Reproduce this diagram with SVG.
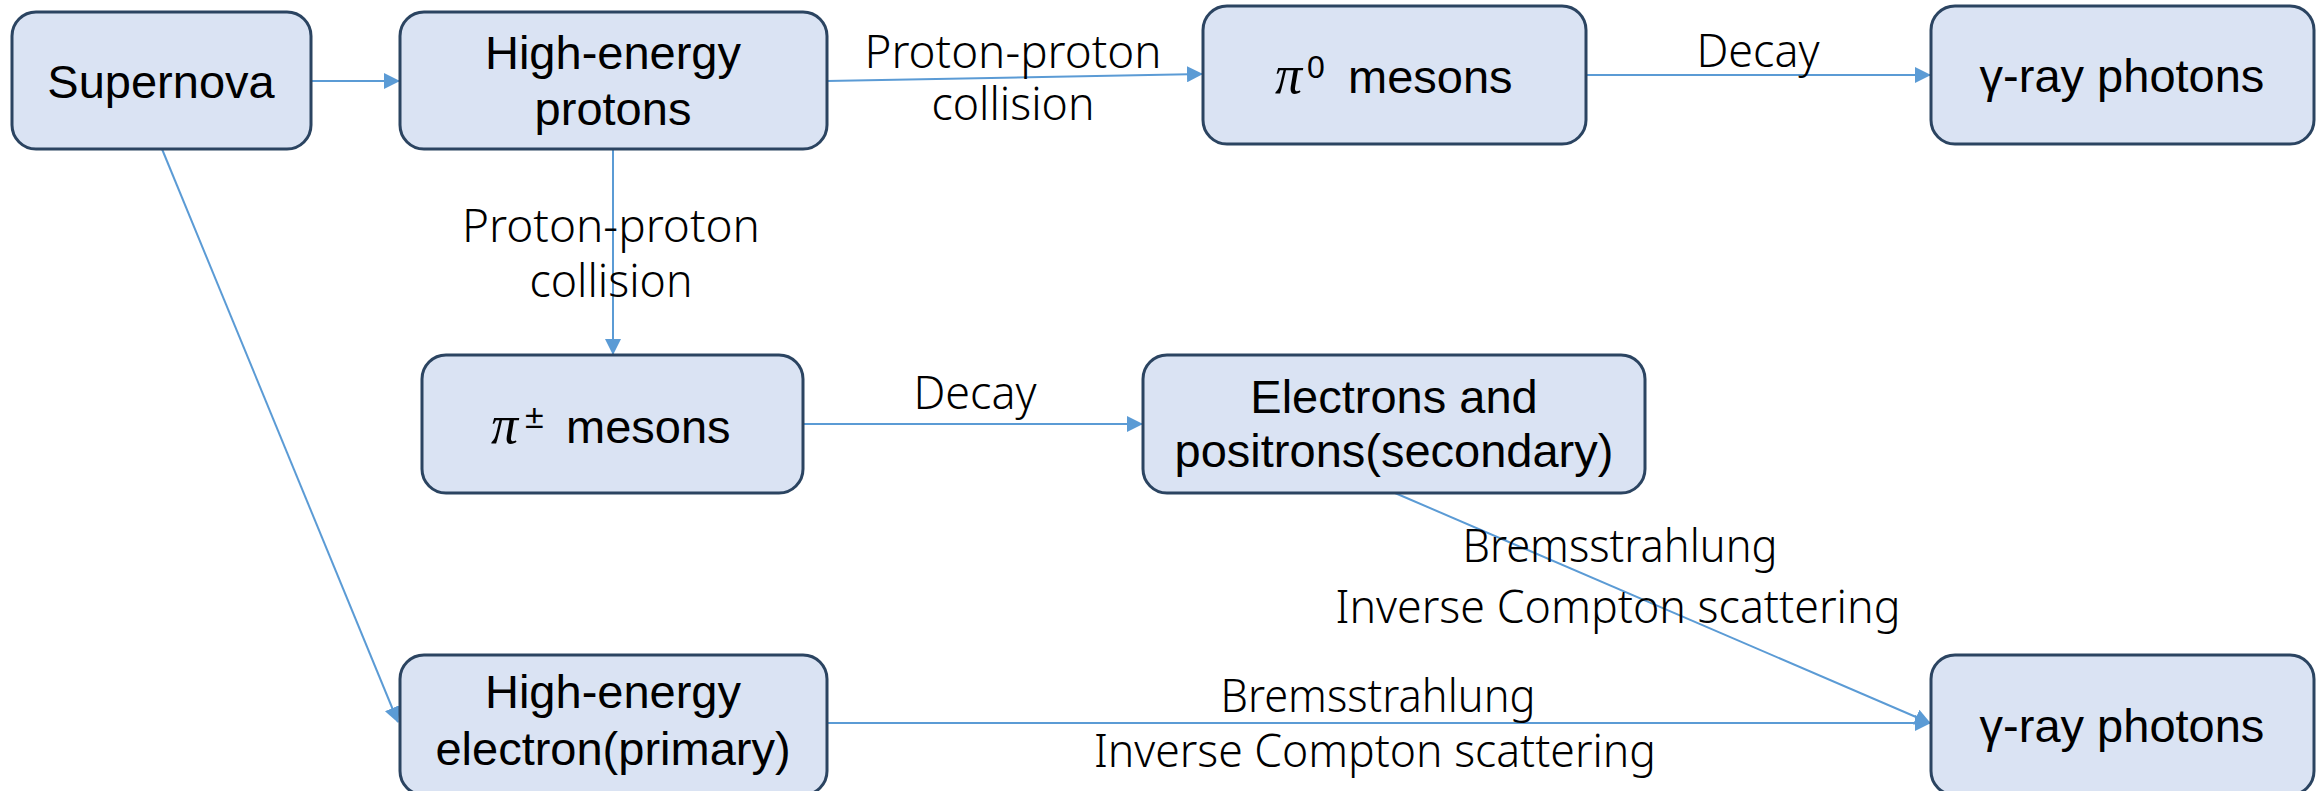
<svg xmlns="http://www.w3.org/2000/svg" width="2323" height="791" viewBox="0 0 2323 791">
<style>
.box{fill:#DAE3F3;stroke:#2B4461;stroke-width:3}
.nt{font-family:"Liberation Sans",Arial,sans-serif;font-size:47px;fill:#000;text-anchor:middle}
.nl{font-family:"Liberation Sans",Arial,sans-serif;font-size:47px;fill:#000}
.pi{font-family:"Liberation Serif","Times New Roman",serif;font-style:italic;font-size:54px}
.el{font-family:"Noto Sans","Open Sans",sans-serif;font-size:45px;font-weight:300;fill:#000;text-anchor:middle}
.cn{stroke:#5B9BD5;stroke-width:2;fill:none;marker-end:url(#ah)}
</style>
<defs>
<marker id="ah" markerUnits="userSpaceOnUse" markerWidth="16" markerHeight="16" viewBox="0 0 16 16" refX="15" refY="8" orient="auto">
<path d="M0,0 L16,8 L0,16 Z" fill="#5B9BD5"/>
</marker>
</defs>
<rect width="2323" height="791" fill="#FFFFFF"/>
<g id="connectors">
<line class="cn" x1="311" y1="81" x2="399" y2="81"/>
<line class="cn" x1="827" y1="81" x2="1202" y2="74"/>
<line class="cn" x1="1586" y1="75" x2="1930" y2="75"/>
<line class="cn" x1="613" y1="149" x2="613" y2="354"/>
<line class="cn" x1="803" y1="424" x2="1142" y2="424"/>
<line class="cn" x1="1395" y1="493" x2="1930" y2="723"/>
<line class="cn" x1="162" y1="149" x2="398" y2="722"/>
<line class="cn" x1="827" y1="723" x2="1930" y2="723"/>
<text class="el" x="1013" y="68" textLength="297" lengthAdjust="spacingAndGlyphs">Proton-proton</text>
<text class="el" x="1013" y="120" textLength="163" lengthAdjust="spacingAndGlyphs">collision</text>
<text class="el" x="1758" y="67" textLength="123" lengthAdjust="spacingAndGlyphs">Decay</text>
<text class="el" x="611" y="242" textLength="298" lengthAdjust="spacingAndGlyphs">Proton-proton</text>
<text class="el" x="611" y="297" textLength="163" lengthAdjust="spacingAndGlyphs">collision</text>
<text class="el" x="975" y="409" textLength="123" lengthAdjust="spacingAndGlyphs">Decay</text>
<text class="el" x="1620" y="562" textLength="315" lengthAdjust="spacingAndGlyphs">Bremsstrahlung</text>
<text class="el" x="1618" y="623" textLength="565" lengthAdjust="spacingAndGlyphs">Inverse Compton scattering</text>
<text class="el" x="1378" y="712" textLength="315" lengthAdjust="spacingAndGlyphs">Bremsstrahlung</text>
<text class="el" x="1375" y="767" textLength="562" lengthAdjust="spacingAndGlyphs">Inverse Compton scattering</text>
</g>
<g id="supernova">
<rect class="box" x="12" y="12" width="299" height="137" rx="24"/>
<text class="nt" x="161" y="98">Supernova</text>
</g>
<g id="he-protons">
<rect class="box" x="400" y="12" width="427" height="137" rx="24"/>
<text class="nt" x="613" y="69">High-energy</text>
<text class="nt" x="613" y="125">protons</text>
</g>
<g id="pi0-mesons">
<rect class="box" x="1203" y="6" width="383" height="138" rx="24"/>
<text class="nl" y="93"><tspan class="pi" x="1275">π</tspan><tspan x="1307" y="78" font-size="32">0</tspan><tspan x="1348" y="93">mesons</tspan></text>
</g>
<g id="gamma-top">
<rect class="box" x="1931" y="6" width="383" height="138" rx="24"/>
<text class="nt" x="2122" y="92">γ-ray photons</text>
</g>
<g id="pipm-mesons">
<rect class="box" x="422" y="355" width="381" height="138" rx="24"/>
<text class="nl" y="443"><tspan class="pi" x="491">π</tspan><tspan x="525" y="428" font-size="34">±</tspan><tspan x="566" y="443">mesons</tspan></text>
</g>
<g id="electrons-positrons">
<rect class="box" x="1143" y="355" width="502" height="138" rx="24"/>
<text class="nt" x="1394" y="413">Electrons and</text>
<text class="nt" x="1394" y="467">positrons(secondary)</text>
</g>
<g id="he-electron">
<rect class="box" x="400" y="655" width="427" height="140" rx="24"/>
<text class="nt" x="613" y="708">High-energy</text>
<text class="nt" x="613" y="765">electron(primary)</text>
</g>
<g id="gamma-bottom">
<rect class="box" x="1931" y="655" width="383" height="140" rx="24"/>
<text class="nt" x="2122" y="742">γ-ray photons</text>
</g>
</svg>
